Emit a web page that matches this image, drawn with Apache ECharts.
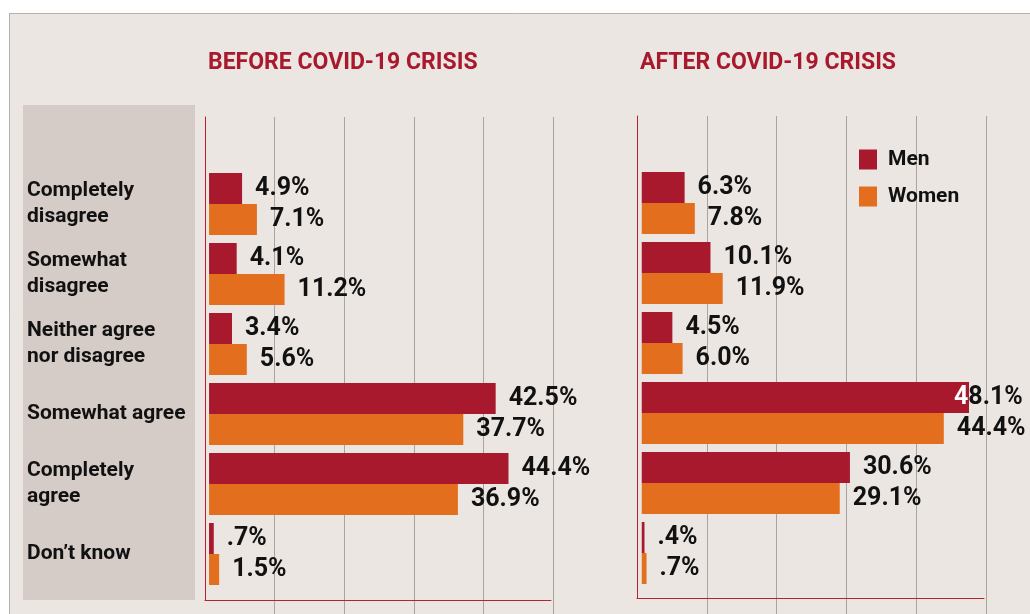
<!DOCTYPE html>
<html>
<head>
<meta charset="utf-8">
<script src="https://cdn.jsdelivr.net/npm/echarts@6/dist/echarts.min.js"></script>
<style>
  html, body { margin: 0; padding: 0; background: #ffffff; }
  #main { width: 1030px; height: 614px; }
</style>
</head>
<body>
<div id="main"></div>
<script type="text/javascript">
	// categories and values
	var categories = ['Completely\ndisagree', 'Somewhat\ndisagree', 'Neither agree\nnor disagree',
		'Somewhat agree', 'Completely\nagree', 'Don\u2019t know'];
	var menBefore = [4.9, 4.1, 3.4, 42.5, 44.4, 0.7];
	var womenBefore = [7.1, 11.2, 5.6, 37.7, 36.9, 1.5];
	var menAfter = [6.3, 10.1, 4.5, 48.1, 30.6, 0.4];
	var womenAfter = [7.8, 11.9, 6.0, 44.4, 29.1, 0.7];
	var panelTitles = ['BEFORE COVID-19 CRISIS', 'AFTER COVID-19 CRISIS'];

	var MEN = '#a8192e', WOMEN = '#e36f1e', RED_LINE = '#b8232f', GRID = '#aaa49f';
	var FONT = 'Roboto, "Noto Sans", sans-serif';

	function pct(v) {
		return v.toFixed(1).replace(/^0/, '') + '%';
	}

	// label that would run off the right edge is pulled back over the bar
	function barData(arr) {
		return arr.map(function(v) {
			if (v > 47) {
				return { value: v, label: { distance: -15 } };
			}
			return v;
		});
	}

	function labelFmt(p) {
		var s = pct(p.value);
		if (p.value > 47) {
			return '{w|' + s.charAt(0) + '}' + s.slice(1);
		}
		return s;
	}

	var valueLabel = {
		show : true,
		position : 'right',
		distance : 13,
		color : '#111',
		fontFamily : FONT,
		fontSize : 25,
		fontWeight : 'bold',
		formatter : labelFmt,
		rich : {
			w : { color : '#ffffff', fontFamily : FONT, fontSize : 25, fontWeight : 'bold' }
		}
	};

	var myChart = echarts.init(document.getElementById('main'));
	var option = {
		backgroundColor : '#ebe6e1',
		animation : false,
		textStyle : { fontFamily : FONT },
		graphic : [
			{ type : 'rect', shape : { x : 0, y : 0, width : 1030, height : 13 }, style : { fill : '#ffffff' } },
			{ type : 'rect', shape : { x : 0, y : 0, width : 9, height : 614 }, style : { fill : '#ffffff' } },
			{ type : 'line', shape : { x1 : 9, y1 : 13.5, x2 : 1030, y2 : 13.5 }, style : { stroke : '#b5b1ad', lineWidth : 1 } },
			{ type : 'line', shape : { x1 : 9.5, y1 : 13, x2 : 9.5, y2 : 614 }, style : { stroke : '#b5b1ad', lineWidth : 1 } },
			{ type : 'rect', shape : { x : 23, y : 105, width : 172, height : 495 }, style : { fill : '#d5ccc7' } }
		],
		title : [ {
			text : panelTitles[0], left : 208, top : 52, padding : 0,
			textStyle : { color : MEN, fontSize : 23, fontWeight : 'bold', fontFamily : FONT }
		}, {
			text : panelTitles[1], left : 640, top : 52, padding : 0,
			textStyle : { color : MEN, fontSize : 23, fontWeight : 'bold', fontFamily : FONT }
		} ],
		legend : {
			data : [ 'Men', 'Women' ],
			orient : 'vertical',
			left : 854,
			top : 144,
			icon : 'rect',
			itemWidth : 18,
			itemHeight : 20,
			itemGap : 16,
			textStyle : { color : '#111', fontSize : 21, fontWeight : 'bold', fontFamily : FONT, padding : [ 0, 0, 0, 6 ] }
		},
		grid : [
			// before: gridlines, red frame, bars
			{ left : 205, top : 117, width : 348, bottom : 0 },
			{ left : 205, top : 117, width : 346, height : 483 },
			{ left : 205, top : 169, width : 348, height : 420 },
			// after
			{ left : 637, top : 116, width : 349, bottom : 0 },
			{ left : 637, top : 116, width : 347, height : 482 },
			{ left : 637, top : 168, width : 349, height : 420 }
		],
		xAxis : [],
		yAxis : [],
		series : []
	};

	for (var k = 0; k < 2; k++) {
		var g = k * 3;
		// gridlines
		option.xAxis.push({
			gridIndex : g, type : 'value', min : 0, max : 50, interval : 10,
			axisLine : { show : false }, axisTick : { show : false }, axisLabel : { show : false },
			splitLine : { show : true, showMinLine : false, lineStyle : { color : GRID, width : 1 } }
		});
		option.yAxis.push({ gridIndex : g, type : 'value', show : false });
		// red frame
		option.xAxis.push({
			gridIndex : g + 1, type : 'value', min : 0, max : 50,
			axisLine : { show : true, onZero : false, lineStyle : { color : RED_LINE, width : 1 } },
			axisTick : { show : false }, axisLabel : { show : false }, splitLine : { show : false }
		});
		option.yAxis.push({
			gridIndex : g + 1, type : 'value', min : 0, max : 1,
			axisLine : { show : true, onZero : false, lineStyle : { color : RED_LINE, width : 1 } },
			axisTick : { show : false }, axisLabel : { show : false }, splitLine : { show : false }
		});
		// bars
		option.xAxis.push({
			gridIndex : g + 2, type : 'value', show : false,
			min : k == 0 ? -0.6 : -0.7, max : k == 0 ? 51 : 50.6
		});
		option.yAxis.push({
			gridIndex : g + 2, type : 'category', inverse : true, data : categories,
			axisLine : { show : false }, axisTick : { show : false },
			axisLabel : {
				show : k == 0, align : 'left', margin : 178,
				color : '#111', fontSize : 21, fontWeight : 'bold', lineHeight : 26, fontFamily : FONT
			}
		});
		option.series.push({
			name : 'Men', type : 'bar', xAxisIndex : g + 2, yAxisIndex : g + 2,
			barWidth : 31, barGap : '0%', itemStyle : { color : MEN },
			label : valueLabel,
			data : barData(k == 0 ? menBefore : menAfter)
		}, {
			name : 'Women', type : 'bar', xAxisIndex : g + 2, yAxisIndex : g + 2,
			barWidth : 31, barGap : '0%', itemStyle : { color : WOMEN },
			label : valueLabel,
			data : barData(k == 0 ? womenBefore : womenAfter)
		});
	}

	myChart.setOption(option);
</script>
</body>
</html>
